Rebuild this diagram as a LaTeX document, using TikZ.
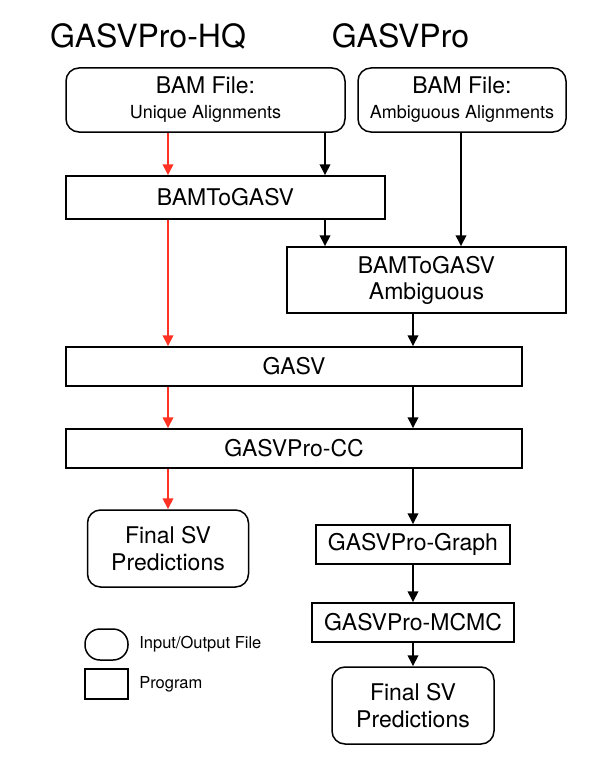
\documentclass[tikz,border=0pt]{standalone}
\usepackage{fontspec}
\setmainfont{TeX Gyre Heros}
\usepackage{tikz}
\usetikzlibrary{arrows.meta,positioning}
\definecolor{hqred}{RGB}{255,50,35}
\tikzset{
node distance=7pt, % distance between the legend boxes and their labels
file/.style={draw, rounded corners=13pt, line width=1.5pt, inner sep=0pt, align=center, font=\fontsize{23}{27}\selectfont},
prog/.style={draw, line width=1.5pt, inner sep=0pt, align=center, font=\fontsize{23}{26}\selectfont},
flow/.style={line width=2pt, -{Triangle[length=11pt,width=10.5pt]}},
hqflow/.style={flow, hqred},
}
\newcommand{\subtxt}[1]{{\fontsize{18}{22}\selectfont #1}}

\begin{document}
\begin{tikzpicture}[x=1pt,y=-1pt]
   \useasboundingbox (0,0) rectangle (609,768);
   % titles
   \node[anchor=base, font=\fontsize{32}{36}\selectfont] (t_hq) at (148,48) {GASVPro-HQ};
   \node[anchor=base, font=\fontsize{32}{36}\selectfont] (t_pro) at (400.5,48) {GASVPro};
   % input files
   \node[file, minimum width=279pt, minimum height=64pt] (uniq) at (205.5,100) {BAM File:\\[-2pt]\subtxt{Unique Alignments}};
   \node[file, minimum width=208pt, minimum height=64pt] (ambig) at (462,100) {BAM File:\\[-2pt]\subtxt{Ambiguous Alignments}};
   % programs
   \node[prog, minimum width=319pt, minimum height=43pt] (b2g) at (225.5,197.5) {BAMToGASV};
   \node[prog, minimum width=279pt, minimum height=66pt] (b2ga) at (426.5,280) {BAMToGASV\\Ambiguous};
   \node[prog, minimum width=456pt, minimum height=39pt] (gasv) at (294,366.5) {GASV};
   \node[prog, minimum width=456pt, minimum height=39pt] (cc) at (294,448.5) {GASVPro-CC};
   \node[file, minimum width=161pt, minimum height=77pt] (fin_hq) at (168,548.5) {Final SV\\Predictions};
   \node[prog, minimum width=194pt, minimum height=39pt] (graph) at (413,544.5) {GASVPro-Graph};
   \node[prog, minimum width=202pt, minimum height=39pt] (mcmc) at (413,622.5) {GASVPro-MCMC};
   \node[file, minimum width=162pt, minimum height=77pt] (fin_pro) at (413,705.5) {Final SV\\Predictions};
   % legend
   \node[file, rounded corners=15pt, minimum width=43pt, minimum height=31pt] (key_file) at (106.5,644.5) {};
   \node[prog, minimum width=43pt, minimum height=30pt] (key_prog) at (106.5,684) {};
   \node[anchor=west, font=\fontsize{16.5}{20}\selectfont] (key_file_txt) [right=of key_file] {Input/Output File};
   \node[anchor=west, font=\fontsize{16.5}{20}\selectfont] (key_prog_txt) [right=of key_prog] {Program};
   % arrow columns
   \coordinate (c_hq) at (168,0);
   \coordinate (c_u) at (325,0);
   \coordinate (c_a) at (461,0);
   \coordinate (c_m) at (413,0);
   \path[hqflow]
    (uniq.south -| c_hq) edge (b2g.north -| c_hq)
    (b2g.south -| c_hq) edge (gasv.north -| c_hq)
    (gasv.south -| c_hq) edge (cc.north -| c_hq)
    (cc.south -| c_hq) edge (fin_hq.north);
   \path[flow]
    (uniq.south -| c_u) edge (b2g.north -| c_u)
    (b2g.south -| c_u) edge (b2ga.north -| c_u)
    (ambig.south -| c_a) edge (b2ga.north -| c_a)
    (b2ga.south -| c_m) edge (gasv.north -| c_m)
    (gasv.south -| c_m) edge (cc.north -| c_m)
    (cc.south -| c_m) edge (graph.north)
    (graph) edge (mcmc)
    (mcmc) edge (fin_pro);
\end{tikzpicture}
\end{document}
